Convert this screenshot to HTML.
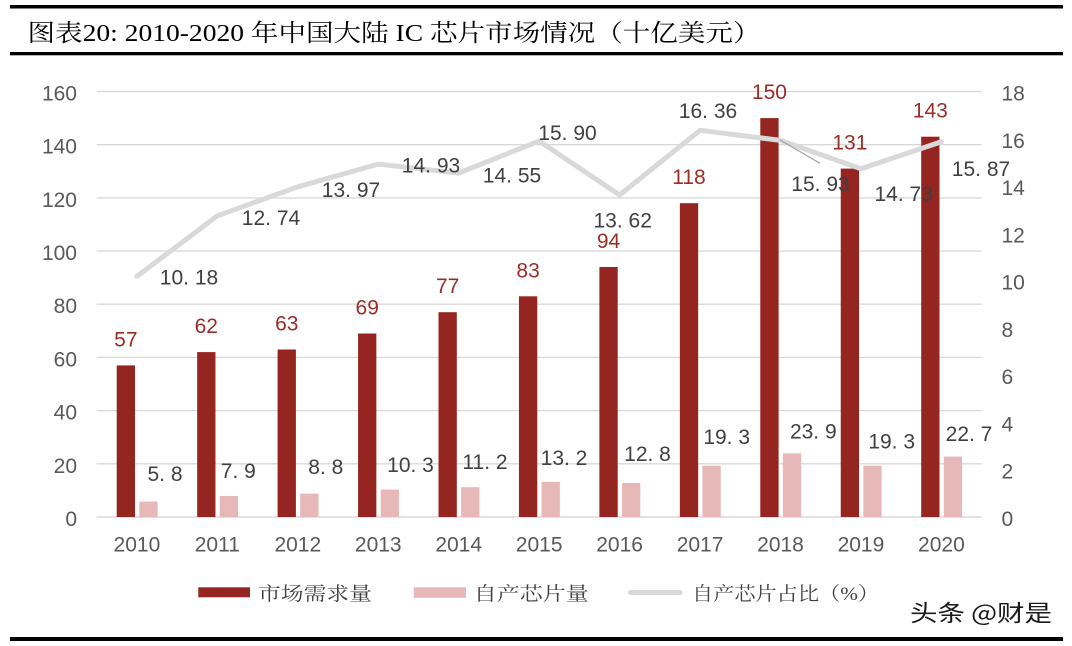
<!DOCTYPE html>
<html><head><meta charset="utf-8"><style>
html,body{margin:0;padding:0;background:#fff;}
svg{display:block;}
.ax{font-family:"Liberation Sans","Noto Sans CJK SC",sans-serif;font-size:21px;fill:#595959;}
.lb{font-family:"Liberation Sans","Noto Sans CJK SC",sans-serif;font-size:21px;fill:#404040;}
.rd{font-family:"Liberation Sans","Noto Sans CJK SC",sans-serif;font-size:21px;fill:#9b2d27;text-anchor:middle;}
.lg{font-family:"Liberation Serif","Noto Serif CJK SC",serif;font-size:19px;fill:#404040;}
</style></head><body>
<svg width="1072" height="646" viewBox="0 0 1072 646" xmlns="http://www.w3.org/2000/svg">
<rect width="1072" height="646" fill="#fff"/>
<rect x="10" y="5" width="1053" height="3.5" fill="#000"/>
<rect x="10" y="52" width="1053" height="3.3" fill="#000"/>
<rect x="10" y="637" width="1053" height="4" fill="#000"/>
<text x="27.5" y="41" font-family="'Liberation Serif','Noto Serif CJK SC',serif" font-size="24" fill="#000" textLength="733" lengthAdjust="spacingAndGlyphs">图表20: 2010-2020 年中国大陆 IC 芯片市场情况（十亿美元）</text>

<g stroke="#d9d9d9" stroke-width="1.4">
<line x1="96.7" y1="517" x2="981.7" y2="517"/>
<line x1="96.7" y1="463.8" x2="981.7" y2="463.8"/>
<line x1="96.7" y1="410.6" x2="981.7" y2="410.6"/>
<line x1="96.7" y1="357.4" x2="981.7" y2="357.4"/>
<line x1="96.7" y1="304.2" x2="981.7" y2="304.2"/>
<line x1="96.7" y1="251.1" x2="981.7" y2="251.1"/>
<line x1="96.7" y1="197.9" x2="981.7" y2="197.9"/>
<line x1="96.7" y1="144.7" x2="981.7" y2="144.7"/>
<line x1="96.7" y1="91.5" x2="981.7" y2="91.5"/>
</g>

<g class="ax" text-anchor="end">
<text x="77" y="526">0</text>
<text x="77" y="472.8">20</text>
<text x="77" y="419.6">40</text>
<text x="77" y="366.4">60</text>
<text x="77" y="313.2">80</text>
<text x="77" y="260.1">100</text>
<text x="77" y="206.9">120</text>
<text x="77" y="153.7">140</text>
<text x="77" y="100.5">160</text>
</g>
<g class="ax" text-anchor="start">
<text x="1001.5" y="526">0</text>
<text x="1001.5" y="478.7">2</text>
<text x="1001.5" y="431.4">4</text>
<text x="1001.5" y="384.2">6</text>
<text x="1001.5" y="336.9">8</text>
<text x="1001.5" y="289.6">10</text>
<text x="1001.5" y="242.3">12</text>
<text x="1001.5" y="195.1">14</text>
<text x="1001.5" y="147.8">16</text>
<text x="1001.5" y="100.5">18</text>
</g>

<g fill="#952520">
<rect x="116.7" y="365.4" width="18.3" height="151.6"/>
<rect x="197.15" y="352.1" width="18.3" height="164.9"/>
<rect x="277.6" y="349.5" width="18.3" height="167.5"/>
<rect x="358.05" y="333.5" width="18.3" height="183.5"/>
<rect x="438.5" y="312.2" width="18.3" height="204.8"/>
<rect x="518.95" y="296.3" width="18.3" height="220.7"/>
<rect x="599.4" y="267.0" width="18.3" height="250.0"/>
<rect x="679.85" y="203.2" width="18.3" height="313.8"/>
<rect x="760.3" y="118.1" width="18.3" height="398.9"/>
<rect x="840.75" y="168.6" width="18.3" height="348.4"/>
<rect x="921.2" y="136.7" width="18.3" height="380.3"/>
</g>
<g fill="#e6b8b7">
<rect x="139.3" y="501.6" width="18.3" height="15.4"/>
<rect x="219.75" y="496.0" width="18.3" height="21.0"/>
<rect x="300.2" y="493.6" width="18.3" height="23.4"/>
<rect x="380.65" y="489.6" width="18.3" height="27.4"/>
<rect x="461.1" y="487.2" width="18.3" height="29.8"/>
<rect x="541.55" y="481.9" width="18.3" height="35.1"/>
<rect x="622.0" y="483.0" width="18.3" height="34.0"/>
<rect x="702.45" y="465.7" width="18.3" height="51.3"/>
<rect x="782.9" y="453.4" width="18.3" height="63.6"/>
<rect x="863.35" y="465.7" width="18.3" height="51.3"/>
<rect x="943.8" y="456.6" width="18.3" height="60.4"/>
</g>

<polyline fill="none" stroke="#d9d9d9" stroke-width="5" stroke-linejoin="round" stroke-linecap="round"
points="136.9,276.4 217.35,215.8 297.8,186.8 378.25,164.1 458.7,173.1 539.15,141.1 619.6,195.0 700.05,130.3 780.5,140.4 860.95,168.8 941.4,141.8"/>
<line x1="780" y1="140" x2="820" y2="163.3" stroke="#a6a6a6" stroke-width="1.3"/>

<g class="rd">
<text x="125.85" y="346.4">57</text>
<text x="206.3" y="333.1">62</text>
<text x="286.75" y="330.5">63</text>
<text x="367.2" y="314.5">69</text>
<text x="447.65" y="293.2">77</text>
<text x="528.1" y="277.3">83</text>
<text x="608.55" y="248.0">94</text>
<text x="689.0" y="184.2">118</text>
<text x="769.45" y="99.1">150</text>
<text x="849.9" y="149.6">131</text>
<text x="930.35" y="117.7">143</text>
</g>

<g class="lb" text-anchor="middle">
<text x="189" y="284.5">10. 18</text>
<text x="271" y="224.8">12. 74</text>
<text x="351" y="196.8">13. 97</text>
<text x="431" y="172.5">14. 93</text>
<text x="512" y="182.5">14. 55</text>
<text x="567.5" y="139.8">15. 90</text>
<text x="622.7" y="227.5">13. 62</text>
<text x="708" y="118.2">16. 36</text>
<text x="820.5" y="190.8">15. 93</text>
<text x="903.7" y="200.8">14. 73</text>
<text x="981" y="175.8">15. 87</text>
</g>

<g class="lb" text-anchor="middle">
<text x="165" y="480.8">5. 8</text>
<text x="238.3" y="478.2">7. 9</text>
<text x="325.8" y="474.2">8. 8</text>
<text x="410.5" y="471.8">10. 3</text>
<text x="485" y="469.2">11. 2</text>
<text x="564" y="464.8">13. 2</text>
<text x="647.5" y="460.8">12. 8</text>
<text x="726.7" y="444.2">19. 3</text>
<text x="813.3" y="438.5">23. 9</text>
<text x="891.7" y="448.5">19. 3</text>
<text x="969" y="440.8">22. 7</text>
</g>

<g class="ax" text-anchor="middle">
<text x="136.9" y="551.5">2010</text>
<text x="217.35" y="551.5">2011</text>
<text x="297.8" y="551.5">2012</text>
<text x="378.25" y="551.5">2013</text>
<text x="458.7" y="551.5">2014</text>
<text x="539.15" y="551.5">2015</text>
<text x="619.6" y="551.5">2016</text>
<text x="700.05" y="551.5">2017</text>
<text x="780.5" y="551.5">2018</text>
<text x="860.95" y="551.5">2019</text>
<text x="941.4" y="551.5">2020</text>
</g>

<rect x="198.3" y="587.3" width="51.7" height="10" fill="#952520"/>
<text class="lg" x="258" y="600" textLength="114" lengthAdjust="spacingAndGlyphs">市场需求量</text>
<rect x="413.7" y="587.3" width="52.3" height="10.5" fill="#e6b8b7"/>
<text class="lg" x="473.8" y="600" textLength="115" lengthAdjust="spacingAndGlyphs">自产芯片量</text>
<line x1="630.5" y1="592.5" x2="680" y2="592.5" stroke="#d9d9d9" stroke-width="5" stroke-linecap="round"/>
<text class="lg" x="692" y="600" textLength="187" lengthAdjust="spacingAndGlyphs">自产芯片占比（%）</text>

<text x="910" y="621" font-family="'Noto Sans CJK SC',sans-serif" font-size="23" fill="#1a1a1a" textLength="142" lengthAdjust="spacingAndGlyphs">头条 @财是</text>
</svg>
</body></html>
